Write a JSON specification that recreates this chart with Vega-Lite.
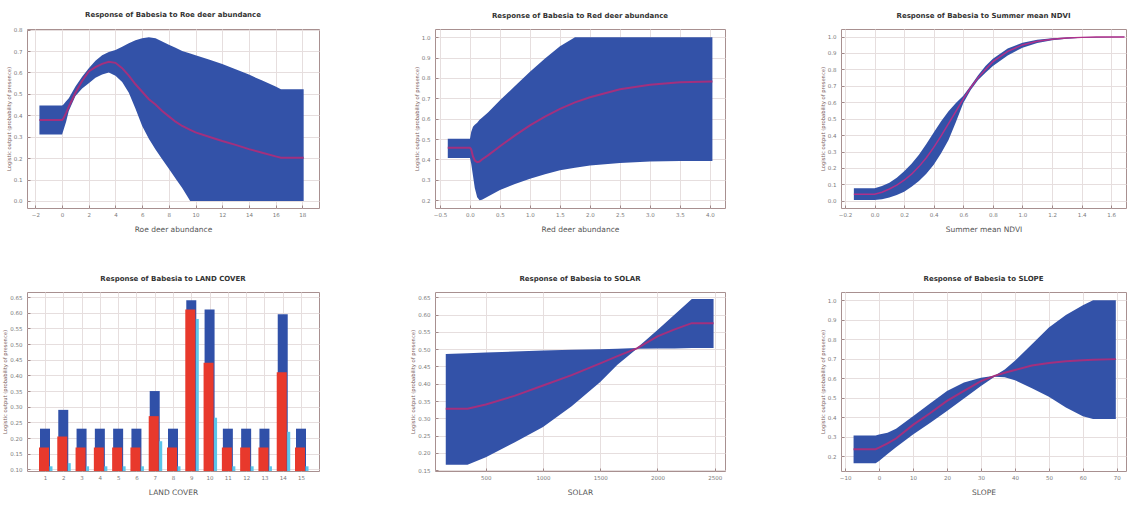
{
  "$schema": "https://vega.github.io/schema/vega-lite/v6.json",
  "background": "white",
  "padding": {"left": 2, "top": 10, "right": 0, "bottom": 0},
  "bounds": "flush",
  "columns": 3,
  "spacing": {"row": 84, "column": 116},
  "datasets": {
    "roe": [
      {"x": -1.7, "lo": 0.31, "mean": 0.378, "hi": 0.446},
      {"x": 0.0, "lo": 0.31, "mean": 0.378, "hi": 0.446},
      {"x": 0.1, "lo": 0.33, "mean": 0.385, "hi": 0.45},
      {"x": 0.3, "lo": 0.37, "mean": 0.41, "hi": 0.465},
      {"x": 0.5, "lo": 0.42, "mean": 0.44, "hi": 0.48},
      {"x": 1.0, "lo": 0.49, "mean": 0.505, "hi": 0.535},
      {"x": 1.5, "lo": 0.525, "mean": 0.56, "hi": 0.58},
      {"x": 2.0, "lo": 0.55, "mean": 0.605, "hi": 0.62},
      {"x": 2.5, "lo": 0.575, "mean": 0.625, "hi": 0.655},
      {"x": 3.0, "lo": 0.59, "mean": 0.64, "hi": 0.68},
      {"x": 3.5, "lo": 0.6, "mean": 0.65, "hi": 0.695},
      {"x": 4.0, "lo": 0.585, "mean": 0.645, "hi": 0.705},
      {"x": 4.5, "lo": 0.555, "mean": 0.62, "hi": 0.72},
      {"x": 5.0, "lo": 0.505, "mean": 0.585, "hi": 0.737},
      {"x": 5.5, "lo": 0.43, "mean": 0.545, "hi": 0.75},
      {"x": 6.0, "lo": 0.35, "mean": 0.51, "hi": 0.76},
      {"x": 6.5, "lo": 0.29, "mean": 0.475, "hi": 0.765},
      {"x": 7.0, "lo": 0.24, "mean": 0.45, "hi": 0.76},
      {"x": 7.5, "lo": 0.195, "mean": 0.42, "hi": 0.745},
      {"x": 8.0, "lo": 0.15, "mean": 0.395, "hi": 0.73},
      {"x": 8.5, "lo": 0.105, "mean": 0.37, "hi": 0.715},
      {"x": 9.0, "lo": 0.06, "mean": 0.35, "hi": 0.7},
      {"x": 9.6, "lo": 0.0, "mean": 0.332, "hi": 0.688},
      {"x": 10, "lo": 0.0, "mean": 0.32, "hi": 0.68},
      {"x": 11, "lo": 0.0, "mean": 0.3, "hi": 0.66},
      {"x": 12, "lo": 0.0, "mean": 0.28, "hi": 0.64},
      {"x": 13, "lo": 0.0, "mean": 0.262, "hi": 0.615},
      {"x": 14, "lo": 0.0, "mean": 0.242, "hi": 0.59},
      {"x": 15, "lo": 0.0, "mean": 0.225, "hi": 0.562},
      {"x": 16, "lo": 0.0, "mean": 0.208, "hi": 0.535},
      {"x": 16.4, "lo": 0.0, "mean": 0.202, "hi": 0.522},
      {"x": 17, "lo": 0.0, "mean": 0.202, "hi": 0.522},
      {"x": 18.1, "lo": 0.0, "mean": 0.202, "hi": 0.522}
    ],
    "red": [
      {"x": -0.37, "lo": 0.407, "mean": 0.457, "hi": 0.502},
      {"x": 0.0, "lo": 0.407, "mean": 0.457, "hi": 0.502},
      {"x": 0.02, "lo": 0.38, "mean": 0.45, "hi": 0.535},
      {"x": 0.05, "lo": 0.32, "mean": 0.415, "hi": 0.56},
      {"x": 0.08, "lo": 0.26, "mean": 0.395, "hi": 0.57},
      {"x": 0.12, "lo": 0.215, "mean": 0.387, "hi": 0.58},
      {"x": 0.16, "lo": 0.2, "mean": 0.39, "hi": 0.595},
      {"x": 0.2, "lo": 0.202, "mean": 0.4, "hi": 0.605},
      {"x": 0.3, "lo": 0.218, "mean": 0.42, "hi": 0.63},
      {"x": 0.5, "lo": 0.25, "mean": 0.465, "hi": 0.69},
      {"x": 0.75, "lo": 0.28, "mean": 0.518, "hi": 0.76},
      {"x": 1.0, "lo": 0.306, "mean": 0.567, "hi": 0.83},
      {"x": 1.25, "lo": 0.328, "mean": 0.61, "hi": 0.895},
      {"x": 1.5, "lo": 0.347, "mean": 0.648, "hi": 0.955},
      {"x": 1.75, "lo": 0.36, "mean": 0.68, "hi": 1.0},
      {"x": 2.0, "lo": 0.37, "mean": 0.705, "hi": 1.0},
      {"x": 2.5, "lo": 0.383, "mean": 0.744, "hi": 1.0},
      {"x": 3.0, "lo": 0.39, "mean": 0.767, "hi": 1.0},
      {"x": 3.5, "lo": 0.393, "mean": 0.779, "hi": 1.0},
      {"x": 4.04, "lo": 0.393, "mean": 0.783, "hi": 1.0}
    ],
    "ndvi": [
      {"x": -0.14, "lo": 0.005, "mean": 0.04, "hi": 0.076},
      {"x": 0.0, "lo": 0.005, "mean": 0.04, "hi": 0.076},
      {"x": 0.05, "lo": 0.01, "mean": 0.052, "hi": 0.09},
      {"x": 0.1, "lo": 0.02, "mean": 0.072, "hi": 0.11},
      {"x": 0.15, "lo": 0.035, "mean": 0.095, "hi": 0.14},
      {"x": 0.2, "lo": 0.055, "mean": 0.125, "hi": 0.18},
      {"x": 0.25, "lo": 0.085, "mean": 0.162, "hi": 0.225},
      {"x": 0.3, "lo": 0.12, "mean": 0.208, "hi": 0.28},
      {"x": 0.35, "lo": 0.165, "mean": 0.262, "hi": 0.345},
      {"x": 0.4, "lo": 0.22, "mean": 0.325, "hi": 0.415},
      {"x": 0.45, "lo": 0.29, "mean": 0.395, "hi": 0.485},
      {"x": 0.5, "lo": 0.37, "mean": 0.47, "hi": 0.545},
      {"x": 0.55, "lo": 0.48, "mean": 0.545, "hi": 0.595},
      {"x": 0.6, "lo": 0.595, "mean": 0.62, "hi": 0.64},
      {"x": 0.65, "lo": 0.675, "mean": 0.69, "hi": 0.7},
      {"x": 0.7, "lo": 0.735, "mean": 0.75, "hi": 0.765},
      {"x": 0.75, "lo": 0.78, "mean": 0.8, "hi": 0.82},
      {"x": 0.8, "lo": 0.82, "mean": 0.847, "hi": 0.865},
      {"x": 0.9, "lo": 0.885, "mean": 0.91, "hi": 0.928},
      {"x": 1.0, "lo": 0.932, "mean": 0.949, "hi": 0.962},
      {"x": 1.1, "lo": 0.96, "mean": 0.972, "hi": 0.98},
      {"x": 1.2, "lo": 0.977, "mean": 0.984, "hi": 0.99},
      {"x": 1.3, "lo": 0.987, "mean": 0.991, "hi": 0.995},
      {"x": 1.4, "lo": 0.992, "mean": 0.995, "hi": 0.997},
      {"x": 1.5, "lo": 0.995, "mean": 0.997, "hi": 0.998},
      {"x": 1.69, "lo": 0.997, "mean": 0.998, "hi": 0.999}
    ],
    "land": [
      {"lc": 1, "hi": 0.23, "mean": 0.17, "lo": 0.11},
      {"lc": 2, "hi": 0.29, "mean": 0.205, "lo": 0.12},
      {"lc": 3, "hi": 0.23, "mean": 0.17, "lo": 0.11},
      {"lc": 4, "hi": 0.23, "mean": 0.17, "lo": 0.11},
      {"lc": 5, "hi": 0.23, "mean": 0.17, "lo": 0.11},
      {"lc": 6, "hi": 0.23, "mean": 0.17, "lo": 0.11},
      {"lc": 7, "hi": 0.35, "mean": 0.27, "lo": 0.19},
      {"lc": 8, "hi": 0.23, "mean": 0.17, "lo": 0.11},
      {"lc": 9, "hi": 0.64, "mean": 0.61, "lo": 0.58},
      {"lc": 10, "hi": 0.61, "mean": 0.44, "lo": 0.265},
      {"lc": 11, "hi": 0.23, "mean": 0.17, "lo": 0.11},
      {"lc": 12, "hi": 0.23, "mean": 0.17, "lo": 0.11},
      {"lc": 13, "hi": 0.23, "mean": 0.17, "lo": 0.11},
      {"lc": 14, "hi": 0.595, "mean": 0.41, "lo": 0.22},
      {"lc": 15, "hi": 0.23, "mean": 0.17, "lo": 0.11}
    ],
    "solar": [
      {"x": 150, "lo": 0.166, "mean": 0.328, "hi": 0.486},
      {"x": 340, "lo": 0.166, "mean": 0.328, "hi": 0.488},
      {"x": 500, "lo": 0.188, "mean": 0.34, "hi": 0.49},
      {"x": 750, "lo": 0.23, "mean": 0.365, "hi": 0.493},
      {"x": 1000, "lo": 0.275, "mean": 0.395, "hi": 0.496},
      {"x": 1250, "lo": 0.335, "mean": 0.425, "hi": 0.498},
      {"x": 1500, "lo": 0.405, "mean": 0.459, "hi": 0.5},
      {"x": 1650, "lo": 0.455, "mean": 0.48, "hi": 0.501},
      {"x": 1820, "lo": 0.501, "mean": 0.502, "hi": 0.503},
      {"x": 2000, "lo": 0.502, "mean": 0.537, "hi": 0.555},
      {"x": 2150, "lo": 0.502, "mean": 0.557, "hi": 0.6},
      {"x": 2300, "lo": 0.503, "mean": 0.575, "hi": 0.645},
      {"x": 2490, "lo": 0.503, "mean": 0.575, "hi": 0.645}
    ],
    "slope": [
      {"x": -7.5, "lo": 0.163, "mean": 0.235, "hi": 0.305},
      {"x": -1, "lo": 0.163, "mean": 0.235, "hi": 0.305},
      {"x": 0, "lo": 0.175, "mean": 0.243, "hi": 0.31},
      {"x": 2.5, "lo": 0.21, "mean": 0.265, "hi": 0.32},
      {"x": 5, "lo": 0.245, "mean": 0.29, "hi": 0.34},
      {"x": 10, "lo": 0.31, "mean": 0.36, "hi": 0.405},
      {"x": 15, "lo": 0.37, "mean": 0.42, "hi": 0.47},
      {"x": 20, "lo": 0.432, "mean": 0.483, "hi": 0.534},
      {"x": 25, "lo": 0.495, "mean": 0.535, "hi": 0.578},
      {"x": 30, "lo": 0.56, "mean": 0.585, "hi": 0.602},
      {"x": 34, "lo": 0.607, "mean": 0.612, "hi": 0.612},
      {"x": 37, "lo": 0.605, "mean": 0.628, "hi": 0.645},
      {"x": 40, "lo": 0.59, "mean": 0.642, "hi": 0.69},
      {"x": 45, "lo": 0.548, "mean": 0.665, "hi": 0.775},
      {"x": 50, "lo": 0.505, "mean": 0.678, "hi": 0.86},
      {"x": 55, "lo": 0.45, "mean": 0.687, "hi": 0.925},
      {"x": 60, "lo": 0.405, "mean": 0.692, "hi": 0.975},
      {"x": 63, "lo": 0.39, "mean": 0.695, "hi": 1.0},
      {"x": 69.7, "lo": 0.39, "mean": 0.698, "hi": 1.0}
    ]
  },
  "concat": [
    {
      "width": 292, "height": 179,
      "title": "Response of Babesia to Roe deer abundance",
      "data": {"name": "roe"},
      "layer": [
        {"mark": {"type": "area", "color": "#3352a8"},
         "encoding": {
           "x": {"field": "x", "type": "quantitative", "scale": {"domain": [-2.63, 19.25], "nice": false, "zero": false},
                 "axis": {"values": [-2, 0, 2, 4, 6, 8, 10, 12, 14, 16, 18], "format": "d", "title": "Roe deer abundance"}},
           "y": {"field": "hi", "type": "quantitative", "scale": {"domain": [-0.033, 0.803], "nice": false, "zero": false},
                 "axis": {"values": [0, 0.1, 0.2, 0.3, 0.4, 0.5, 0.6, 0.7, 0.8], "format": ".1f", "title": "Logistic output (probability of presence)"}},
           "y2": {"field": "lo"}}},
        {"mark": {"type": "line", "color": "#a3307e", "strokeWidth": 2},
         "encoding": {"x": {"field": "x", "type": "quantitative"}, "y": {"field": "mean", "type": "quantitative"}}}
      ]
    },
    {
      "width": 290, "height": 179,
      "title": "Response of Babesia to Red deer abundance",
      "data": {"name": "red"},
      "layer": [
        {"mark": {"type": "area", "color": "#3352a8"},
         "encoding": {
           "x": {"field": "x", "type": "quantitative", "scale": {"domain": [-0.583, 4.25], "nice": false, "zero": false},
                 "axis": {"values": [-0.5, 0, 0.5, 1, 1.5, 2, 2.5, 3, 3.5, 4], "format": ".1f", "title": "Red deer abundance"}},
           "y": {"field": "hi", "type": "quantitative", "scale": {"domain": [0.162, 1.04], "nice": false, "zero": false},
                 "axis": {"values": [0.2, 0.3, 0.4, 0.5, 0.6, 0.7, 0.8, 0.9, 1.0], "format": ".1f", "title": "Logistic output (probability of presence)"}},
           "y2": {"field": "lo"}}},
        {"mark": {"type": "line", "color": "#a3307e", "strokeWidth": 2},
         "encoding": {"x": {"field": "x", "type": "quantitative"}, "y": {"field": "mean", "type": "quantitative"}}}
      ]
    },
    {
      "width": 285, "height": 179,
      "title": "Response of Babesia to Summer mean NDVI",
      "data": {"name": "ndvi"},
      "layer": [
        {"mark": {"type": "area", "color": "#3352a8"},
         "encoding": {
           "x": {"field": "x", "type": "quantitative", "scale": {"domain": [-0.227, 1.7], "nice": false, "zero": false},
                 "axis": {"values": [-0.2, 0, 0.2, 0.4, 0.6, 0.8, 1.0, 1.2, 1.4, 1.6], "format": ".1f", "title": "Summer mean NDVI"}},
           "y": {"field": "hi", "type": "quantitative", "scale": {"domain": [-0.044, 1.046], "nice": false, "zero": false},
                 "axis": {"values": [0, 0.1, 0.2, 0.3, 0.4, 0.5, 0.6, 0.7, 0.8, 0.9, 1.0], "format": ".1f", "title": "Logistic output (probability of presence)"}},
           "y2": {"field": "lo"}}},
        {"mark": {"type": "line", "color": "#b0308a", "strokeWidth": 1.5},
         "encoding": {"x": {"field": "x", "type": "quantitative"}, "y": {"field": "mean", "type": "quantitative"}}}
      ]
    },
    {
      "width": 292, "height": 179,
      "title": "Response of Babesia to LAND COVER",
      "data": {"name": "land"},
      "layer": [
        {"mark": {"type": "bar", "color": "#3050a8", "width": 10},
         "encoding": {
           "x": {"field": "lc", "type": "quantitative", "scale": {"domain": [0.29, 15.71], "nice": false, "zero": false},
                 "axis": {"values": [1, 2, 3, 4, 5, 6, 7, 8, 9, 10, 11, 12, 13, 14, 15], "format": "d", "title": "LAND COVER"}},
           "y": {"field": "hi", "type": "quantitative", "scale": {"domain": [0.095, 0.666], "nice": false, "zero": false},
                 "axis": {"values": [0.1, 0.15, 0.2, 0.25, 0.3, 0.35, 0.4, 0.45, 0.5, 0.55, 0.6, 0.65], "format": ".2f", "title": "Logistic output (probability of presence)"}},
           "y2": {"datum": 0.095}}},
        {"mark": {"type": "bar", "color": "#5cc6ea", "width": 3, "xOffset": 6},
         "encoding": {"x": {"field": "lc", "type": "quantitative"}, "y": {"field": "lo", "type": "quantitative"}, "y2": {"datum": 0.095}}},
        {"mark": {"type": "bar", "color": "#e8392c", "width": 10, "xOffset": -1},
         "encoding": {"x": {"field": "lc", "type": "quantitative"}, "y": {"field": "mean", "type": "quantitative"}, "y2": {"datum": 0.095}}}
      ]
    },
    {
      "width": 290, "height": 179,
      "title": "Response of Babesia to SOLAR",
      "data": {"name": "solar"},
      "layer": [
        {"mark": {"type": "area", "color": "#3352a8"},
         "encoding": {
           "x": {"field": "x", "type": "quantitative", "scale": {"domain": [56, 2590], "nice": false, "zero": false},
                 "axis": {"values": [500, 1000, 1500, 2000, 2500], "format": "d", "title": "SOLAR"}},
           "y": {"field": "hi", "type": "quantitative", "scale": {"domain": [0.148, 0.665], "nice": false, "zero": false},
                 "axis": {"values": [0.15, 0.2, 0.25, 0.3, 0.35, 0.4, 0.45, 0.5, 0.55, 0.6, 0.65], "format": ".2f", "title": "Logistic output (probability of presence)"}},
           "y2": {"field": "lo"}}},
        {"mark": {"type": "line", "color": "#a3307e", "strokeWidth": 2},
         "encoding": {"x": {"field": "x", "type": "quantitative"}, "y": {"field": "mean", "type": "quantitative"}}}
      ]
    },
    {
      "width": 285, "height": 179,
      "title": "Response of Babesia to SLOPE",
      "data": {"name": "slope"},
      "layer": [
        {"mark": {"type": "area", "color": "#3352a8"},
         "encoding": {
           "x": {"field": "x", "type": "quantitative", "scale": {"domain": [-11.2, 72.7], "nice": false, "zero": false},
                 "axis": {"values": [-10, 0, 10, 20, 30, 40, 50, 60, 70], "format": "d", "title": "SLOPE"}},
           "y": {"field": "hi", "type": "quantitative", "scale": {"domain": [0.123, 1.043], "nice": false, "zero": false},
                 "axis": {"values": [0.2, 0.3, 0.4, 0.5, 0.6, 0.7, 0.8, 0.9, 1.0], "format": ".1f", "title": "Logistic output (probability of presence)"}},
           "y2": {"field": "lo"}}},
        {"mark": {"type": "line", "color": "#a3307e", "strokeWidth": 2},
         "encoding": {"x": {"field": "x", "type": "quantitative"}, "y": {"field": "mean", "type": "quantitative"}}}
      ]
    }
  ],
  "config": {
    "view": {"stroke": "#a89090", "strokeWidth": 1},
    "axis": {
      "domain": false, "grid": true, "gridColor": "#e6dede", "gridWidth": 1, "tickCount": 40,
      "ticks": true, "tickSize": -3, "tickColor": "#a08888", "tickWidth": 1,
      "labelFont": "DejaVu Sans", "labelFontSize": 5.5, "labelColor": "#7a7a7a",
      "labelOverlap": false, "labelFlush": false,
      "titleFont": "DejaVu Sans", "titleFontWeight": "normal"
    },
    "axisX": {"labelPadding": 7, "titleFontSize": 7.5, "titleColor": "#555555", "titlePadding": 8},
    "axisY": {"labelPadding": 8, "titleFontSize": 5.2, "titleColor": "#7a6060", "titlePadding": 2},
    "title": {"font": "DejaVu Sans", "fontSize": 7, "fontWeight": "bold", "color": "#333333", "offset": 10, "anchor": "middle"}
  }
}
